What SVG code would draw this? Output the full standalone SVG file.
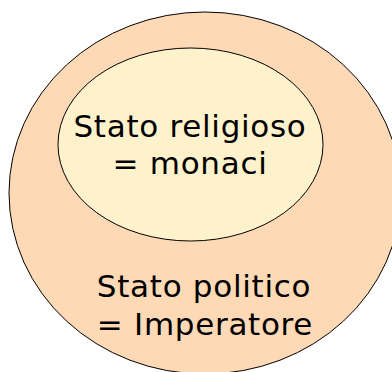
<svg xmlns="http://www.w3.org/2000/svg" width="392" height="372" viewBox="0 0 392 372">
<style>
.t{font-family:"DejaVu Sans",Verdana,sans-serif;font-size:31px;letter-spacing:0.7px;fill:#000;text-anchor:middle}
.e{stroke:#000;stroke-width:1}
</style>
<rect width="392" height="372" fill="#fff"/>
<g id="stato-politico">
<ellipse class="e" cx="205" cy="193" rx="196" ry="181" fill="#FDD9B5"/>
<text class="t" x="204" y="297">Stato politico</text>
<text class="t" x="205" y="335">= Imperatore</text>
</g>
<g id="stato-religioso">
<ellipse class="e" cx="190.5" cy="144.5" rx="132.5" ry="96.5" fill="#FEF2CD"/>
<text class="t" x="190" y="137">Stato religioso</text>
<text class="t" x="190" y="174">= monaci</text>
</g>
<g id="connectors"/>
</svg>
